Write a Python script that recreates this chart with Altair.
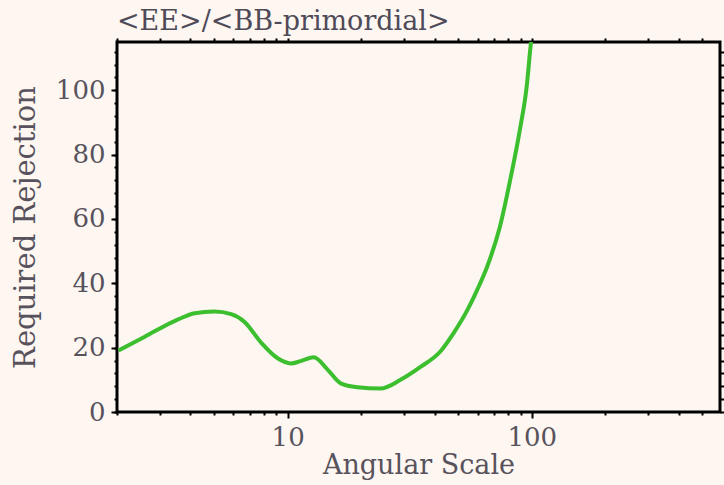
import altair as alt
import pandas as pd

# Required rejection of the primordial B-mode against E-mode leakage, vs. angular scale
angular_scale = [2.03, 2.6, 3.56, 4.16, 5.01, 5.87, 6.66, 7.78, 9.1, 10.3, 11.3, 12.8,
                 14.6, 16.5, 19.3, 24.0, 29.0, 35.0, 42.2, 47.9, 54.3, 59.7, 65.5,
                 73.7, 81.5, 89.5, 95.4, 98.5, 101.2]
rejection = [19.1, 23.4, 28.8, 30.7, 31.2, 30.4, 28.0, 21.6, 16.7, 15.1, 15.8, 17.0,
             13.1, 8.9, 7.7, 7.3, 10.0, 14.0, 18.8, 24.6, 31.5, 37.9, 45.0,
             57.0, 72.0, 88.0, 101.5, 112.5, 121.0]

x_major = [10, 100]
x_minor = [2, 3, 4, 5, 6, 7, 8, 9, 20, 30, 40, 50, 60, 70, 80, 90, 200, 300, 400, 500]
y_major = [0, 20, 40, 60, 80, 100]
y_minor = list(range(0, 116, 4))

df = pd.DataFrame({"ell": angular_scale, "rej": rejection})

FONT = "DejaVu Serif"
TXT = "#57525c"
BG = "#fdf6f1"

xs = alt.Scale(type="log", domain=[2, 590], nice=False)
ys = alt.Scale(domain=[0, 115], nice=False, zero=False)


def ax(orient, values, size, labels=True, title=None, title_size=26, width=2, **extra):
    return alt.Axis(
        orient=orient, values=values, tickSize=size, tickWidth=width,
        tickColor="black", domain=False, grid=False, labels=labels,
        labelFont=FONT, labelFontSize=26, labelFontWeight="normal",
        labelColor=TXT, labelPadding=6,
        titleFont=FONT, titleFontSize=title_size, titleColor=TXT,
        titleFontWeight="normal", titlePadding=2, format="d", title=title,
        **extra,
    )


line = alt.Chart(df).mark_line(
    color="#3cbf2e", strokeWidth=4, clip=True, interpolate="monotone"
).encode(
    x=alt.X("ell:Q", scale=xs,
            axis=ax("bottom", x_major, 6, title="Angular Scale", title_size=27)),
    y=alt.Y("rej:Q", scale=ys,
            axis=ax("left", y_major, 6, title="Required Rejection", title_size=29,
                    titleX=-92, titleY=185, titleAlign="center",
                    titleBaseline="middle", titleAngle=270)),
)


def ghost(xaxis, yaxis):
    return alt.Chart(df).mark_line(opacity=0, clip=True).encode(
        x=alt.X("ell:Q", scale=xs, axis=xaxis),
        y=alt.Y("rej:Q", scale=ys, axis=yaxis),
    )


minor_bl = ghost(ax("bottom", x_minor, 3, labels=False), ax("left", y_minor, 3, labels=False))
minor_tr = ghost(ax("top", x_minor + x_major, 4, labels=False), ax("right", y_minor, 4, labels=False))

chart = alt.layer(minor_bl, minor_tr, line).resolve_axis(
    x="independent", y="independent"
).properties(
    width=603, height=370,
    padding={"left": 117, "top": 42, "right": 4, "bottom": 73},
    autosize=alt.AutoSizeParams(type="none"),
    background=BG,
    title=alt.TitleParams("<EE>/<BB-primordial>", anchor="start", frame="group",
                          font=FONT, fontSize=27, fontWeight="normal",
                          color="#4f4a58", offset=1),
).configure_view(stroke="black", strokeWidth=3).configure_axis(labelFlush=False)

chart.save("out.html", embed_options={"renderer": "svg", "actions": False})
